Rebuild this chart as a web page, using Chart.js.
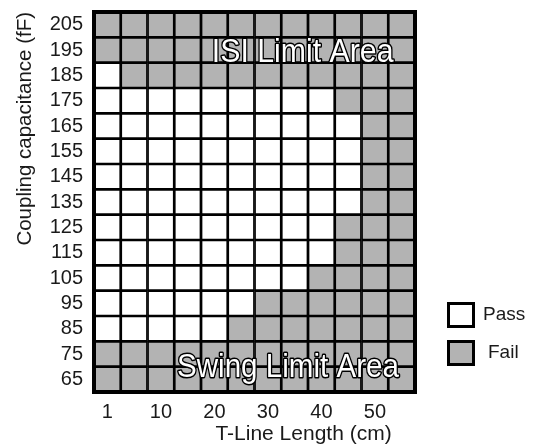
<!DOCTYPE html>
<html>
<head>
<meta charset="utf-8">
<script src="https://cdn.jsdelivr.net/npm/chart.js@4/dist/chart.umd.min.js"></script>
<style>
  html, body { margin: 0; padding: 0; background: #fff; }
  #wrap { width: 535px; height: 447px; }
</style>
</head>
<body>
<div id="wrap"><canvas id="myChart" width="535" height="447"></canvas></div>
<script>
// Coupling capacitance rows (fF), bottom to top
const capValues = [65, 75, 85, 95, 105, 115, 125, 135, 145, 155, 165, 175, 185, 195, 205];
// T-line length columns (cm)
const lengthCols = [1, 5, 10, 15, 20, 25, 30, 35, 40, 45, 50, 55];
const xTickLabels = [1, 10, 20, 30, 40, 50];

// 1 = pass, 0 = fail, one row per capValues entry (same order)
const passRows = [
    [0, 0, 0, 0, 0, 0, 0, 0, 0, 0, 0, 0], // 65
    [0, 0, 0, 0, 0, 0, 0, 0, 0, 0, 0, 0], // 75
    [1, 1, 1, 1, 1, 0, 0, 0, 0, 0, 0, 0], // 85
    [1, 1, 1, 1, 1, 1, 0, 0, 0, 0, 0, 0], // 95
    [1, 1, 1, 1, 1, 1, 1, 1, 0, 0, 0, 0], // 105
    [1, 1, 1, 1, 1, 1, 1, 1, 1, 0, 0, 0], // 115
    [1, 1, 1, 1, 1, 1, 1, 1, 1, 0, 0, 0], // 125
    [1, 1, 1, 1, 1, 1, 1, 1, 1, 1, 0, 0], // 135
    [1, 1, 1, 1, 1, 1, 1, 1, 1, 1, 0, 0], // 145
    [1, 1, 1, 1, 1, 1, 1, 1, 1, 1, 0, 0], // 155
    [1, 1, 1, 1, 1, 1, 1, 1, 1, 1, 0, 0], // 165
    [1, 1, 1, 1, 1, 1, 1, 1, 1, 0, 0, 0], // 175
    [1, 0, 0, 0, 0, 0, 0, 0, 0, 0, 0, 0], // 185
    [0, 0, 0, 0, 0, 0, 0, 0, 0, 0, 0, 0], // 195
    [0, 0, 0, 0, 0, 0, 0, 0, 0, 0, 0, 0]  // 205
];

const passColor = '#ffffff';
const failColor = '#b3b3b3';
const textColor = '#1a1a1a';
const fontFamily = '"Liberation Sans", Arial, sans-serif';

// Region labels, anchored on a column index and a capacitance value
const regionLabels = [
    { text: 'ISI Limit Area', col: 7.3, cap: 195, dy: 12, squeeze: 0.89 },
    { text: 'Swing Limit Area', col: 6.75, cap: 70, dy: 10, squeeze: 0.87 }
];

// one floating-bar dataset per capacitance row
const datasets = capValues.map((cap, r) => ({
    label: cap + ' fF',
    data: lengthCols.map(() => [cap - 5, cap + 5]),
    backgroundColor: passRows[r].map(p => p ? passColor : failColor),
    borderColor: '#000',
    borderWidth: 1.7,
    borderSkipped: false,
    barPercentage: 1,
    categoryPercentage: 1
}));

const overlayPlugin = {
    id: 'overlay',
    afterDraw(chart) {
        const ctx = chart.ctx;
        const area = chart.chartArea;
        const xs = chart.scales.x;
        const ys = chart.scales.y;

        // outer frame
        ctx.save();
        ctx.strokeStyle = '#000';
        ctx.lineWidth = 4;
        ctx.strokeRect(area.left, area.top, area.right - area.left, area.bottom - area.top);
        ctx.restore();

        // region labels: white text with black outline, slightly narrowed
        regionLabels.forEach(lbl => {
            const px = xs.getPixelForValue(lbl.col);
            const py = ys.getPixelForValue(lbl.cap) + lbl.dy;
            ctx.save();
            ctx.translate(px, py);
            ctx.scale(lbl.squeeze, 1);
            ctx.font = '34px ' + fontFamily;
            ctx.textAlign = 'center';
            ctx.textBaseline = 'alphabetic';
            ctx.lineJoin = 'round';
            ctx.lineWidth = 3;
            ctx.strokeStyle = '#000';
            ctx.strokeText(lbl.text, 0, 0);
            ctx.fillStyle = '#fff';
            ctx.fillText(lbl.text, 0, 0);
            ctx.restore();
        });

        // legend
        const items = [
            { text: 'Pass', color: passColor, top: area.bottom - 90, tx: 483 - 447 },
            { text: 'Fail', color: failColor, top: area.bottom - 52, tx: 488 - 447 }
        ];
        const bx = area.right + 32;
        items.forEach(it => {
            ctx.save();
            ctx.fillStyle = it.color;
            ctx.fillRect(bx, it.top, 28, 26);
            ctx.strokeStyle = '#000';
            ctx.lineWidth = 3;
            ctx.strokeRect(bx + 1.5, it.top + 1.5, 25, 23);
            ctx.fillStyle = textColor;
            ctx.font = '19px ' + fontFamily;
            ctx.textAlign = 'left';
            ctx.textBaseline = 'middle';
            ctx.fillText(it.text, bx + it.tx, it.top + 13);
            ctx.restore();
        });
    }
};

const ctx = document.getElementById('myChart').getContext('2d');
new Chart(ctx, {
    type: 'bar',
    data: {
        labels: lengthCols,
        datasets: datasets
    },
    options: {
        responsive: false,
        animation: false,
        layout: {
            padding: { top: 12, right: 120, left: 0, bottom: 0 }
        },
        plugins: {
            legend: { display: false },
            tooltip: { enabled: false }
        },
        scales: {
            x: {
                type: 'category',
                stacked: true,
                offset: true,
                grid: { display: false, drawTicks: false },
                border: { display: false },
                ticks: {
                    autoSkip: false,
                    maxRotation: 0,
                    padding: 8,
                    color: textColor,
                    font: { family: fontFamily, size: 20 },
                    callback: function(val, i) {
                        return xTickLabels.includes(lengthCols[i]) ? String(lengthCols[i]) : '';
                    }
                },
                title: {
                    display: true,
                    text: 'T-Line Length (cm)    ',
                    align: 'end',
                    color: textColor,
                    font: { family: fontFamily, size: 21 },
                    padding: { top: 0, bottom: 0 }
                },
                afterFit: function(scale) { scale.height = 55; }
            },
            y: {
                type: 'linear',
                stacked: false,
                min: 60,
                max: 210,
                grid: { display: false, drawTicks: false },
                border: { display: false },
                afterBuildTicks: function(scale) {
                    scale.ticks = capValues.map(v => ({ value: v }));
                },
                ticks: {
                    autoSkip: false,
                    padding: 11,
                    color: textColor,
                    font: { family: fontFamily, size: 20 }
                },
                title: {
                    display: true,
                    text: 'Coupling capacitance (fF)',
                    align: 'end',
                    color: textColor,
                    font: { family: fontFamily, size: 20.5 },
                    padding: { top: 13, bottom: 0 }
                },
                afterFit: function(scale) {
                    scale.width = 94;
                    scale.paddingTop = 0;
                    scale.paddingBottom = 0;
                }
            }
        }
    },
    plugins: [overlayPlugin]
});
</script>
</body>
</html>
